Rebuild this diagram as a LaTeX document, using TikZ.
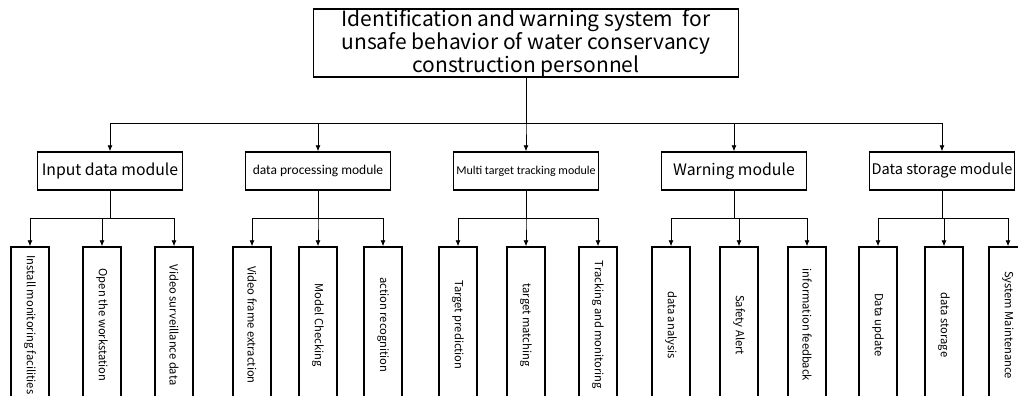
\documentclass[tikz,border=0pt]{standalone}
\usepackage{fontspec}
\setmainfont{Noto Sans CJK SC}
\newfontfamily\calfont{Carlito}
\usetikzlibrary{arrows.meta}

\begin{document}
\begin{tikzpicture}[
  x=1pt, y=-1pt,
  box/.style={draw, line width=1.5pt, inner sep=0pt, align=center},
  modbox/.style={box, minimum width=145pt, minimum height=38pt},
  leafbox/.style={box, rotate=-90, minimum width=156pt, minimum height=38pt,
    font=\fontsize{11.2}{14}\selectfont},
  link/.style={line width=0.8pt, -{Latex[length=6pt,width=5pt]}}
]
  \useasboundingbox (0,0) rectangle (1018,396);
  \clip (0,0) rectangle (1018,396);

  \node[box, minimum width=425pt, minimum height=64pt,
    font=\fontsize{21}{19.5}\selectfont] (root) at (526,43)
    {Identification and warning system\ \ for\\unsafe behavior of water conservancy\\construction personnel};

  % modules
  \node[modbox, font=\fontsize{15.8}{20}\selectfont] (inp) at (110,171) {Input data module};
  \node[modbox, font=\calfont\fontsize{13.5}{16}\selectfont] (proc) at (318,171) {data processing module};
  \node[modbox, font=\calfont\fontsize{12}{14}\selectfont] (track) at (526,171) {Multi target tracking module};
  \node[modbox, font=\fontsize{15.8}{20}\selectfont] (warn) at (734,171) {Warning module};
  \node[modbox, font=\fontsize{14.6}{20}\selectfont] (store) at (942,171) {Data storage module};

  \foreach \m in {inp,proc,track,warn,store}
    \draw[link] (root.south) -- ++(0,46) -| (\m.north);

  % leaves
  \foreach \n/\m/\x/\t in {
      l1/inp/30/Install monitoring facilities, l2/inp/102/Open the workstation,
      l3/inp/174/Video surveillance data,
      l4/proc/252/Video frame extraction, l5/proc/318/Model Checking,
      l6/proc/383/action recognition,
      l7/track/458/Target prediction, l8/track/526/target matching,
      l9/track/598/Tracking and monitoring,
      l10/warn/671/data analysis, l11/warn/739/Safety Alert,
      l12/warn/807/information feedback,
      l13/store/878/Data update, l14/store/944/data storage,
      l15/store/1008/System Maintenance} {
    \node[leafbox] (\n) at (\x,325) {\t};
    \draw[link] (\m.south) -- ++(0,28) -| (\n.west);
  }
\end{tikzpicture}
\end{document}
